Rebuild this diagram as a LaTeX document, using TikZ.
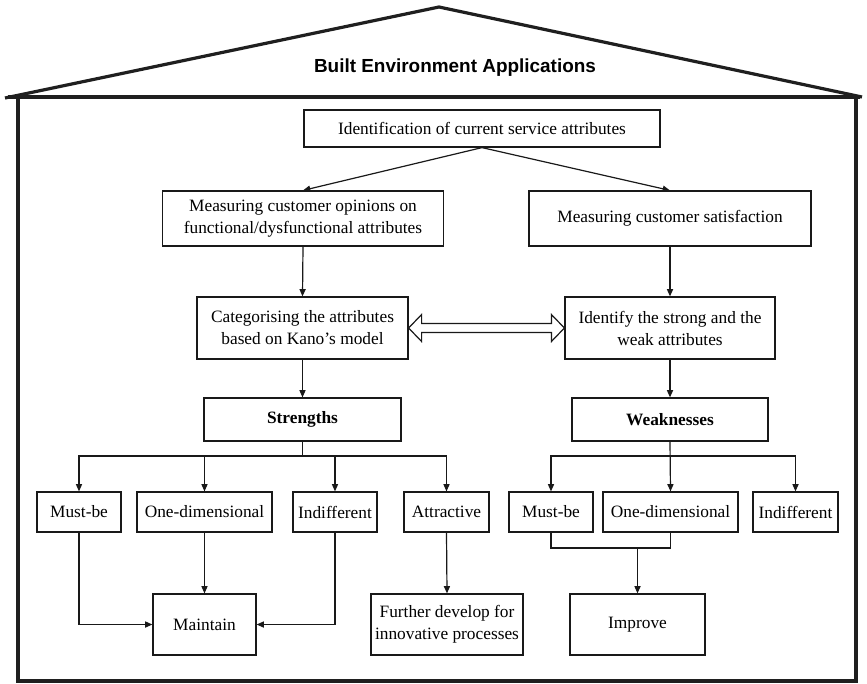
\documentclass[tikz,border=0pt]{standalone}
\usepackage{fontspec}
\setmainfont{Liberation Serif}
\newfontfamily\titlefont{Liberation Sans}
\usetikzlibrary{arrows.meta,calc}

\begin{document}
\begin{tikzpicture}[x=0.75pt,y=-0.75pt,
  ink/.style={color=black!90},
  bx/.style 2 args={draw=black!90, line width=0.9pt, rectangle, inner sep=0pt,
    align=center, minimum width=#1*0.75pt, minimum height=#2*0.75pt,
    font=\fontsize{13}{16.5}\selectfont},
  wall/.style={draw=black!88, line width=2.4pt},
  link/.style={draw=black!90, line width=0.9pt},
  arr/.style={link, -{Triangle[length=5.5pt,width=4.6pt]}}]

\useasboundingbox (0,0) rectangle (867,683);

% the house: roof and walls
\draw[wall, line join=miter] (5,98) -- (439,7) -- (862,97);
\draw[wall] (8,97) -- (860,97);
\draw[wall] (18,97) -- (18,681) -- (856,681) -- (856,97);
\node[anchor=base, inner sep=0pt, font=\titlefont\bfseries\fontsize{14.2}{17}\selectfont]
  (title) at (455,72.5) {Built Environment Applications};

% main chain
\node[bx={356}{37}] (ident) at (482,128.5) {Identification of current service attributes};
\node[bx={281}{55}] (mopin) at (303,218.5) {Measuring customer opinions on\\functional/dysfunctional attributes};
\node[bx={282}{55}] (msat) at (670,218.5) {Measuring customer satisfaction};
\node[bx={211}{62}] (cat) at (302.5,328) {Categorising the attributes\\based on Kano’s model};
\node[bx={210}{62}] (iden) at (670,328) {Identify the strong and the\\weak attributes};
\node[bx={197}{43}] (str) at (302.5,419.5) {\bfseries Strengths};
\node[bx={196}{43}] (weak) at (670,419.5) {\bfseries Weaknesses};

% strength categories
\node[bx={84}{40}] (smb) at (79,512) {Must-be};
\node[bx={135}{40}] (sod) at (204.5,512) {One-dimensional};
\node[bx={84}{40}] (sind) at (335,512) {Indifferent};
\node[bx={85}{40}] (satt) at (446.5,512) {Attractive};
\node[bx={103}{61}] (maint) at (204.5,624.5) {Maintain};
\node[bx={152}{61}] (fdev) at (447,624.5) {Further develop for\\innovative processes};

% weakness categories
\node[bx={84}{40}] (wmb) at (551,512) {Must-be};
\node[bx={135}{40}] (wod) at (670.5,512) {One-dimensional};
\node[bx={85}{40}] (wind) at (795.5,512) {Indifferent};
\node[bx={135}{61}] (impr) at (637.5,624.5) {Improve};

% connectors
\draw[arr] (ident.south) -- (mopin.north);
\draw[arr] (ident.south) -- (msat.north);
\draw[arr] (mopin.south) -- (cat.north);
\draw[arr] (msat.south) -- (iden.north);
\draw[arr] (cat.south) -- (str.north);
\draw[arr] (iden.south) -- (weak.north);

% open double arrow between the two analysis steps
\draw[link, fill=white, line join=miter]
  (cat.east) -- ++(13,-13.5) -- ++(0,9) -- ($(iden.west)+(-13,-4.5)$)
  -- ++(0,-9) -- (iden.west) -- ++(-13,13.5) -- ++(0,-9)
  -- ($(cat.east)+(13,4.5)$) -- ++(0,9) -- cycle;

% strengths branching
\coordinate (sj) at (302.5,456);
\draw[link] (str.south) -- (sj);
\draw[arr] (sj) -| (smb.north);
\draw[arr] (sj) -| (sod.north);
\draw[arr] (sj) -| (sind.north);
\draw[arr] (sj) -| (satt.north);
\draw[arr] (smb.south) |- (maint.west);
\draw[arr] (sod.south) -- (maint.north);
\draw[arr] (sind.south) |- (maint.east);
\draw[arr] (satt.south) -- (fdev.north);

% weaknesses branching
\coordinate (wj) at (670.5,456);
\draw[arr] (weak.south) -- (wod.north);
\draw[arr] (wj) -| (wmb.north);
\draw[arr] (wj) -| (wind.north);
\coordinate (wm) at (637.5,548);
\draw[link] (wmb.south) |- (wm) -| (wod.south);
\draw[arr] (wm) -- (impr.north);

\end{tikzpicture}
\end{document}
